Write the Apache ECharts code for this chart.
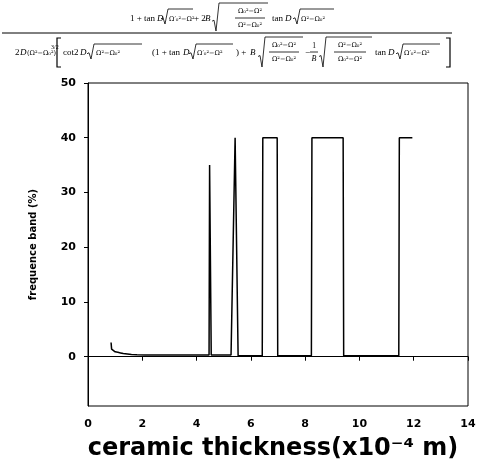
<!DOCTYPE html>
<html>
<head>
<meta charset="utf-8">
<script src="https://cdn.jsdelivr.net/npm/echarts@6/dist/echarts.min.js"></script>
<style>
  html, body { margin: 0; padding: 0; background: #fff; }
  #chart { width: 482px; height: 466px; }
</style>
</head>
<body>
<div id="chart"></div>
<script>
// Ceramic thickness (x10^-4 m) and the resulting frequency band width (%)
const thickness = [0.85, 0.87, 0.92, 1.0, 1.1, 1.2, 1.3, 1.37, 1.45, 1.6, 1.8, 2.1, 2.6, 3.2, 3.8, 4.46,
                   4.48, 4.52, 4.54, 5.0, 5.27, 5.42, 5.53, 6.0, 6.42, 6.44, 6.97, 6.99, 7.6, 8.23,
                   8.25, 9.40, 9.42, 10.5, 11.45, 11.47, 11.95];
const bandWidth = [2.6, 1.4, 1.1, 0.9, 0.8, 0.7, 0.6, 0.8, 0.5, 0.4, 0.35, 0.3, 0.3, 0.3, 0.3, 0.3,
                   35, 35, 0.3, 0.3, 0.3, 40, 0.2, 0.2, 0.2, 40, 40, 0.2, 0.2, 0.2,
                   40, 40, 0.2, 0.2, 0.2, 40, 40];
const xTicks = [0, 2, 4, 6, 8, 10, 12, 14];
const yTicks = [0, 10, 20, 30, 40, 50];

const points = thickness.map((x, i) => [x, bandWidth[i]]);

const heavy = 'DejaVu Sans';
const serif = '"Liberation Serif", "DejaVu Serif"';
const mathFont = '"DejaVu Serif"';

// --- formula drawn above the plot ---
const formula = [];
function t(x, y, s, size, align, style, fam) {
  formula.push({ type: 'text', x: x, y: y, style: {
    text: s, fill: '#000', font: (style || '') + ' ' + (size || 9) + 'px ' + (fam || serif),
    textAlign: align || 'left', textVerticalAlign: 'middle' } });
}
function om(x, y, s, align) { t(x, y, s, 6.5, align, '', mathFont); }
function hl(x1, x2, y, w) {
  formula.push({ type: 'line', shape: { x1: x1, y1: y, x2: x2, y2: y }, style: { stroke: '#000', lineWidth: w || 0.8 } });
}
function rad(x, yTop, yBot, xEnd) {
  const yMid = yBot - (yBot - yTop) * 0.35;
  formula.push({ type: 'polyline', shape: { points: [[x, yMid], [x + 2, yMid - 1], [x + 4, yBot], [x + 7, yTop], [xEnd, yTop]] },
    style: { stroke: '#000', fill: null, lineWidth: 0.8 } });
}
function frac(cx, yMid, top, bot, half) {
  om(cx, yMid - 7, top, 'center');
  hl(cx - half, cx + half, yMid);
  om(cx, yMid + 7, bot, 'center');
}

// numerator
t(130, 19, '1 + tan', 9); t(157, 19, 'D', 9, 'left', 'italic');
rad(161, 9, 24, 193); om(169, 19, 'Ω′₀²−Ω²');
t(194, 19, '+ 2', 9); t(205, 19, 'B', 9, 'left', 'italic');
rad(212, 3, 31, 268); frac(250, 18, 'Ω₀²−Ω²', 'Ω²−Ω₀²', 15);
t(272, 19, 'tan', 9); t(285, 19, 'D', 9, 'left', 'italic');
rad(293, 9, 24, 334); om(301, 19, 'Ω²−Ω₀²');

// main fraction bar
hl(2, 452, 33, 1);

// denominator
t(15, 53, '2', 9); t(20, 53, 'D', 9, 'left', 'italic'); om(27, 53, '(Ω²−Ω₀²)'); t(51, 47, '3/2', 6);
formula.push({ type: 'polyline', shape: { points: [[61, 38], [57, 38], [57, 67], [61, 67]] }, style: { stroke: '#000', fill: null, lineWidth: 1.2 } });
t(63, 53, 'cot2', 9); t(80, 53, 'D', 9, 'left', 'italic');
rad(87, 44, 59, 142); om(96, 53, 'Ω²−Ω₀²');
t(152, 53, '(1 + tan', 9); t(183, 53, 'D', 9, 'left', 'italic');
rad(189, 44, 59, 233); om(197, 53, 'Ω′₀²−Ω²');
t(236, 53, ') + ', 9); t(250, 53, 'B', 9, 'left', 'italic');
rad(258, 37, 67, 303); frac(284, 52, 'Ω₀²−Ω²', 'Ω²−Ω₀²', 15);
t(305, 53, '−', 9);
t(314, 46, '1', 7.5, 'center'); hl(310, 318, 52); t(314, 59, 'B', 8, 'center', 'italic');
rad(319, 37, 67, 372); frac(350, 52, 'Ω²−Ω₀²', 'Ω₀²−Ω²', 16);
t(375, 53, 'tan', 9); t(388, 53, 'D', 9, 'left', 'italic');
rad(396, 44, 59, 440); om(404, 53, 'Ω′₀²−Ω²');
formula.push({ type: 'polyline', shape: { points: [[446, 38], [450, 38], [450, 67], [446, 67]] }, style: { stroke: '#000', fill: null, lineWidth: 1.2 } });

const chart = echarts.init(document.getElementById('chart'), null, { renderer: 'canvas' });
chart.setOption({
  backgroundColor: '#fff',
  animation: false,
  grid: { left: 88, right: 14, top: 83, bottom: 55, show: true, borderColor: '#000', borderWidth: 1 },
  xAxis: {
    type: 'value', min: 0, max: 14, interval: 2,
    name: 'ceramic thickness(x10⁻⁴ m)', nameLocation: 'middle', nameGap: 31,
    nameTextStyle: { fontFamily: heavy, fontWeight: 'bold', fontSize: 24, color: '#000', padding: [0, 10, 0, 0] },
    axisLine: { show: true, lineStyle: { color: '#000', width: 1 } },
    axisTick: { show: true, inside: false, length: 4, lineStyle: { color: '#000', width: 1 } },
    axisLabel: { fontFamily: heavy, fontWeight: 'bold', fontSize: 11, color: '#000', margin: 13,
                 formatter: v => (xTicks.indexOf(v) >= 0 ? String(v) : '') },
    splitLine: { show: false }
  },
  yAxis: {
    // no fixed interval: the scale settles on steps of 10 counted from 0
    type: 'value', min: -9, max: 50, splitNumber: 6,
    name: 'frequence band (%)', nameLocation: 'middle', nameGap: 50,
    nameTextStyle: { fontFamily: heavy, fontWeight: 'bold', fontSize: 10, color: '#000' },
    axisLine: { show: true, lineStyle: { color: '#000', width: 1 } },
    axisTick: { show: true, inside: false, length: 4, lineStyle: { color: '#000', width: 1 } },
    axisLabel: { fontFamily: heavy, fontWeight: 'bold', fontSize: 11, color: '#000', margin: 12, showMinLabel: false,
                 formatter: v => (yTicks.indexOf(v) >= 0 ? String(v) : '') },
    splitLine: { show: false }
  },
  series: [{
    type: 'line', data: points, showSymbol: false, silent: true,
    lineStyle: { color: '#000', width: 1.5 }
  }],
  graphic: formula
});
</script>
</body>
</html>
